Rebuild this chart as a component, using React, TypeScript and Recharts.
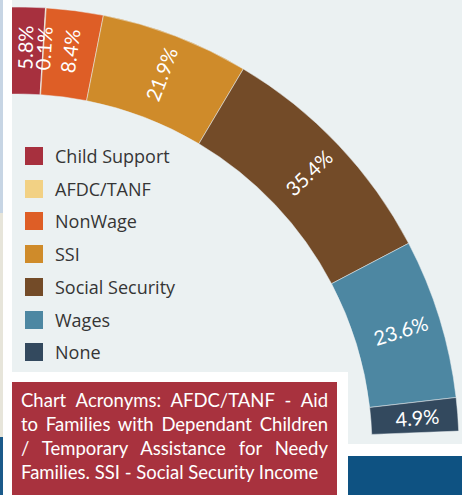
import { Cell, Pie, PieChart } from "recharts";

const categories = [
  "Child Support",
  "AFDC/TANF",
  "NonWage",
  "SSI",
  "Social Security",
  "Wages",
  "None",
];
const shares = [5.8, 0.1, 8.4, 21.9, 35.4, 23.6, 4.9];

const colors = [
  "#a7303e",
  "#f2d184",
  "#de5e26",
  "#cf8b2a",
  "#734b28",
  "#4d87a2",
  "#33495e",
];

const noteLines = [
  "Chart Acronyms: AFDC/TANF - Aid",
  "to Families with Dependant Children",
  "/ Temporary Assistance for Needy",
  "Families. SSI - Social Security Income",
];

const data = categories.map((name, i) => ({ name, value: shares[i] }));

const RAD = Math.PI / 180;

// label sits mid-ring, turned along the radius
const renderLabel = (props: any) => {
  const { cx, cy, midAngle, innerRadius, outerRadius, value } = props;
  const r = (innerRadius + outerRadius) / 2 + 3;
  const x = cx + r * Math.cos(-midAngle * RAD);
  const y = cy + r * Math.sin(-midAngle * RAD);
  return (
    <text
      x={x}
      y={y}
      fill="#ffffff"
      textAnchor="middle"
      dominantBaseline="central"
      fontFamily="Lato"
      fontSize={20}
      transform={`rotate(${-midAngle} ${x} ${y})`}
    >
      {value}%
    </text>
  );
};

export default function App() {
  return (
    <div
      style={{
        position: "absolute",
        left: 0,
        top: 0,
        width: 467,
        height: 495,
        background: "#ffffff",
        overflow: "hidden",
      }}
    >
      {/* left edge strip */}
      <div style={{ position: "absolute", left: 0, top: 0, width: 3, height: 213, background: "#c7d5e4" }} />
      <div style={{ position: "absolute", left: 0, top: 213, width: 3, height: 224, background: "#e7e5da" }} />
      <div style={{ position: "absolute", left: 0, top: 437, width: 3, height: 58, background: "#1b5a8a" }} />

      {/* chart panel */}
      <div
        style={{
          position: "absolute",
          left: 12,
          top: 0,
          width: 450,
          height: 444,
          background: "#ebf1f2",
          overflow: "hidden",
        }}
      >
        <PieChart width={450} height={444} margin={{ top: 0, right: 0, bottom: 0, left: 0 }}>
          <Pie
            data={data}
            dataKey="value"
            cx={6}
            cy={448}
            startAngle={91.6}
            endAngle={2.2}
            innerRadius={354}
            outerRadius={441}
            stroke="#ebf1f2"
            strokeWidth={0.5}
            label={renderLabel}
            labelLine={false}
            isAnimationActive={false}
          >
            {data.map((d, i) => (
              <Cell key={d.name} fill={colors[i]} />
            ))}
          </Pie>
        </PieChart>

        {/* legend */}
        {categories.map((name, i) => (
          <div
            key={name}
            style={{
              position: "absolute",
              left: 13,
              top: 147 + i * 32.7,
              height: 18,
              display: "flex",
              alignItems: "center",
              fontFamily: "Open Sans",
              fontSize: 18,
              color: "#353535",
              whiteSpace: "nowrap",
            }}
          >
            <div style={{ width: 18, height: 18, background: colors[i], marginRight: 12 }} />
            {name}
          </div>
        ))}
      </div>

      {/* note box */}
      <div style={{ position: "absolute", left: 3, top: 372, width: 345, height: 123, background: "#ffffff" }} />
      <div
        style={{
          position: "absolute",
          left: 12,
          top: 382,
          width: 325,
          height: 113,
          boxSizing: "border-box",
          padding: "6px 9px 0 9px",
          background: "#a8323e",
          color: "#ffffff",
          fontFamily: "Lato",
          fontSize: 18.5,
          lineHeight: "24px",
        }}
      >
        {noteLines.map((line, i) => (
          <div
            key={i}
            style={{
              textAlign: i < noteLines.length - 1 ? "justify" : "left",
              textAlignLast: i < noteLines.length - 1 ? "justify" : "left",
              whiteSpace: "nowrap",
            }}
          >
            {line}
          </div>
        ))}
      </div>

      <div style={{ position: "absolute", left: 348, top: 456, width: 114, height: 39, background: "#0e5282" }} />
    </div>
  );
}
